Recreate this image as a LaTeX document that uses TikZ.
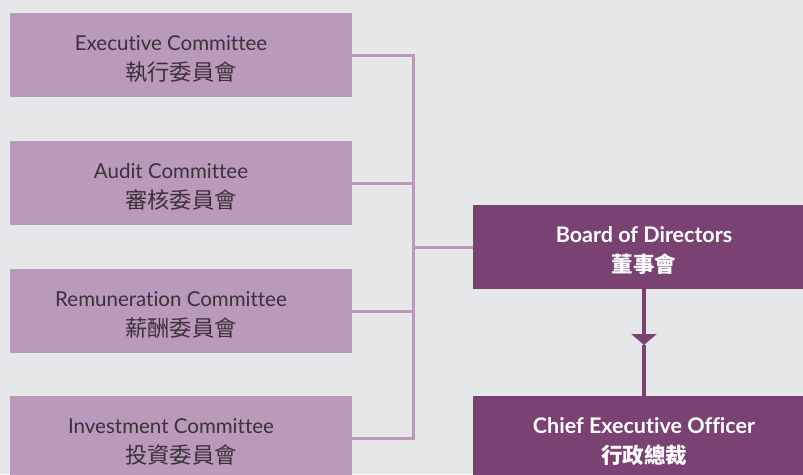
\documentclass[tikz,border=0pt]{standalone}
\usepackage{fontspec}
\setmainfont[Ligatures=NoCommon]{Lato}
\newfontfamily\cjk{Noto Sans CJK TC}
\usetikzlibrary{arrows.meta}
\definecolor{bgcol}{RGB}{230,231,233}
\definecolor{lightp}{RGB}{185,154,186}
\definecolor{darkp}{RGB}{122,66,115}
\definecolor{txtcol}{RGB}{58,50,56}
\newcommand\cjkreg{\cjk\fontsize{22.2}{30}\selectfont}
\newcommand\cjkbold{\cjk\bfseries\fontsize{21.5}{30}\selectfont}
\tikzset{
  commbox/.style={fill=lightp, minimum width=342pt, minimum height=84pt, inner sep=0pt},
  mainbox/.style={fill=darkp, minimum width=342pt, minimum height=84pt, inner sep=0pt},
  commtext/.style={inner sep=0pt, text=txtcol, align=center, font=\fontsize{20.5}{30}\selectfont},
  maintext/.style={inner sep=0pt, text=white, align=center, font=\fontsize{21.5}{30}\selectfont\bfseries},
  busline/.style={draw=lightp, line width=3pt},
  mainline/.style={draw=darkp, line width=4pt}
}
\begin{document}
\begin{tikzpicture}[x=1pt,y=-1pt]
\fill[bgcol] (0,0) rectangle (803,474);
\useasboundingbox (0,0) rectangle (803,474);
\begin{scope}
\clip (0,0) rectangle (803,474);
\node[commbox] (exec) at (181,55) {};
\node[commbox] (audit) at (181,183) {};
\node[commbox] (remu) at (181,311) {};
\node[commbox] (inv) at (181,438) {};
\node[mainbox] (board) at (644,247) {};
\node[mainbox] (ceo) at (644,438) {};
\node[commtext] (exec-t) at ([yshift=-4pt]exec.center) {Executive Committee\hspace*{20pt}\\{\cjkreg 執行委員會}};
\node[commtext] (audit-t) at ([yshift=-4pt]audit.center) {Audit Committee\hspace*{20pt}\\{\cjkreg 審核委員會}};
\node[commtext] (remu-t) at ([yshift=-4pt]remu.center) {Remuneration Committee\hspace*{20pt}\\{\cjkreg 薪酬委員會}};
\node[commtext] (inv-t) at ([yshift=-4pt]inv.center) {Investment Committee\hspace*{20pt}\\{\cjkreg 投資委員會}};
\node[maintext] (board-t) at ([yshift=-4pt]board.center) {Board of Directors\\{\cjkbold 董事會}};
\node[maintext] (ceo-t) at ([yshift=-4pt]ceo.center) {Chief Executive Officer\\{\cjkbold 行政總裁}};
\coordinate (bus) at (413,0);
\draw[busline] (exec.east) -- (exec.east -| bus);
\draw[busline] (audit.east) -- (audit.east -| bus);
\draw[busline] (remu.east) -- (remu.east -| bus);
\draw[busline] (inv.east) -- (inv.east -| bus);
\draw[busline] ([yshift=1.5pt]exec.east -| bus) -- ([yshift=-1.5pt]inv.east -| bus);
\draw[busline] (board.west -| bus) -- (board.west);
\coordinate (tip) at (644,345);
\draw[mainline, -{Triangle[width=25pt,length=11pt]}] (board.south) -- (tip);
\draw[mainline] (tip) -- (ceo.north);
\end{scope}
\end{tikzpicture}
\end{document}
